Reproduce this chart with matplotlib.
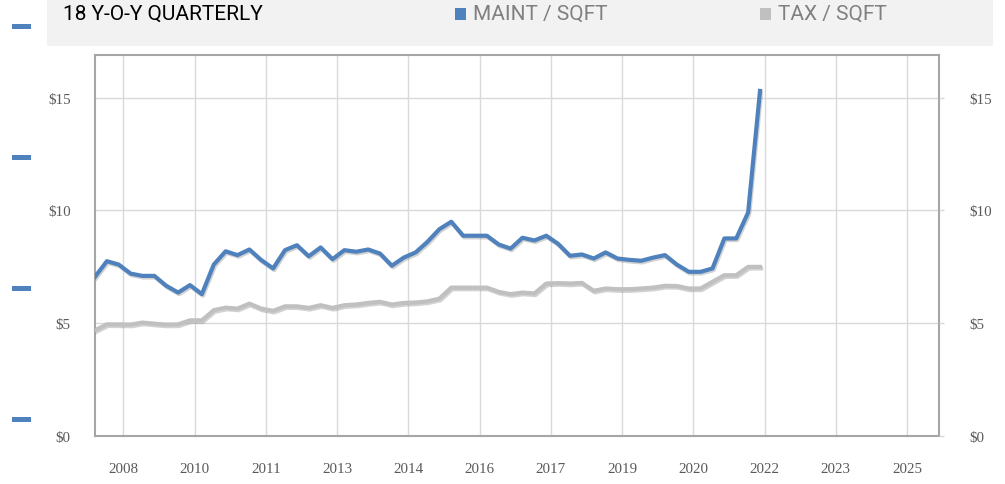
import matplotlib
matplotlib.use("Agg")
import matplotlib.pyplot as plt
from matplotlib.patches import Rectangle
import matplotlib.patheffects as pe

W, H = 1005, 485

title = "18 Y-O-Y QUARTERLY"
series_names = ["MAINT / SQFT", "TAX / SQFT"]

maint = [7.06, 7.75, 7.60, 7.20, 7.10, 7.10, 6.66, 6.36, 6.69, 6.29,
         7.60, 8.19, 8.02, 8.27, 7.80, 7.43, 8.24, 8.46, 7.97, 8.36,
         7.84, 8.24, 8.17, 8.27, 8.09, 7.55, 7.91, 8.14, 8.61, 9.17,
         9.50, 8.88, 8.88, 8.88, 8.49, 8.31, 8.79, 8.67, 8.88, 8.52,
         7.99, 8.05, 7.87, 8.14, 7.87, 7.81, 7.77, 7.91, 8.02, 7.60,
         7.28, 7.28, 7.43, 8.76, 8.76, 9.91, 15.30]
tax = [4.69, 4.95, 4.95, 4.94, 5.03, 4.98, 4.94, 4.95, 5.13, 5.13,
       5.58, 5.69, 5.65, 5.87, 5.65, 5.55, 5.75, 5.75, 5.68, 5.80,
       5.68, 5.80, 5.83, 5.90, 5.95, 5.83, 5.90, 5.92, 5.97, 6.09,
       6.58, 6.58, 6.58, 6.58, 6.39, 6.29, 6.36, 6.32, 6.76, 6.78,
       6.76, 6.79, 6.44, 6.54, 6.51, 6.51, 6.54, 6.58, 6.66, 6.65,
       6.54, 6.54, 6.84, 7.13, 7.13, 7.50, 7.50]
x_labels = ["2008", "2010", "2011", "2013", "2014", "2016",
            "2017", "2019", "2020", "2022", "2023", "2025"]
y_ticks = [0, 5, 10, 15]
y_labels = ["$0", "$5", "$10", "$15"]

blue = "#4f81bd"
grey = "#c0c0c0"
label_col = "#595959"
serif = ["Liberation Serif", "DejaVu Serif"]

fig = plt.figure(figsize=(W / 100, H / 100), dpi=100)
fig.patch.set_facecolor("white")

# header band
fig.add_artist(Rectangle((47 / W, 1 - 47 / H), (993 - 47) / W, 47 / H,
                         transform=fig.transFigure, facecolor="#f2f2f2",
                         edgecolor="none", zorder=0))
hdr_font = ["Liberation Sans Narrow", "Roboto", "DejaVu Sans"]
fig.text(63 / W, 1 - 14 / H, title, family=hdr_font, fontsize=15,
         color="black", va="center", ha="left")
fig.add_artist(Rectangle((455 / W, 1 - 21 / H), 11 / W, 12 / H,
                         transform=fig.transFigure, facecolor=blue, edgecolor="none"))
fig.text(473 / W, 1 - 14 / H, series_names[0], family=hdr_font, fontsize=15,
         color="#808080", va="center", ha="left")
fig.add_artist(Rectangle((760 / W, 1 - 21 / H), 11 / W, 12 / H,
                         transform=fig.transFigure, facecolor=grey, edgecolor="none"))
fig.text(778 / W, 1 - 14 / H, series_names[1], family=hdr_font, fontsize=15,
         color="#808080", va="center", ha="left")

# left dashes
for yc in [27, 158, 289, 420]:
    fig.add_artist(Rectangle((12 / W, 1 - (yc + 2.5) / H), 19 / W, 5 / H,
                             transform=fig.transFigure, facecolor=blue,
                             edgecolor="none"))

left, right, top, bottom = 95, 939, 56, 437
ax = fig.add_axes([left / W, 1 - bottom / H, (right - left) / W, (bottom - top) / H])
px_per_q = (760 - 95) / 56
xmax = (right - left) / px_per_q
ax.set_xlim(0, xmax)
ax.set_ylim(0, (bottom - top) / ((437.3 - 99) / 15))

xs = list(range(len(maint)))
shadow = [pe.SimpleLineShadow(offset=(0.8, -1.2), shadow_color="#808080", alpha=0.35),
          pe.Normal()]
ax.plot(xs, tax, color=grey, lw=3.0, solid_joinstyle="round", zorder=3,
        path_effects=shadow)
ax.plot(xs, maint, color=blue, lw=3.0, solid_joinstyle="round", zorder=4,
        path_effects=shadow)

first_grid = (123.3 - 95) / px_per_q
xt = [first_grid + 6 * i for i in range(len(x_labels))]
ax.set_xticks(xt)
ax.set_xticklabels(x_labels)
ax.set_yticks(y_ticks)
ax.set_yticklabels(y_labels)
ax.grid(True, color="#d9d9d9", lw=1.0)
ax.set_axisbelow(True)
for s in ax.spines.values():
    s.set_color("#a6a6a6")
    s.set_linewidth(1.5)
ax.tick_params(axis="x", length=0, pad=18.5, labelsize=10.8, labelcolor=label_col)
ax.tick_params(axis="y", length=0, pad=17.5, labelsize=10.8, labelcolor=label_col)
for lab in ax.get_xticklabels() + ax.get_yticklabels():
    lab.set_family(serif)

ax2 = ax.twinx()
ax2.set_ylim(ax.get_ylim())
ax2.set_yticks(y_ticks)
ax2.set_yticklabels(y_labels)
ax2.tick_params(axis="y", length=3.6, width=1.0, color="#d9d9d9", pad=18,
                labelsize=10.8, labelcolor=label_col, direction="out")
for lab in ax2.get_yticklabels():
    lab.set_family(serif)
for s in ax2.spines.values():
    s.set_visible(False)

fig.savefig("out.png", dpi=100)
